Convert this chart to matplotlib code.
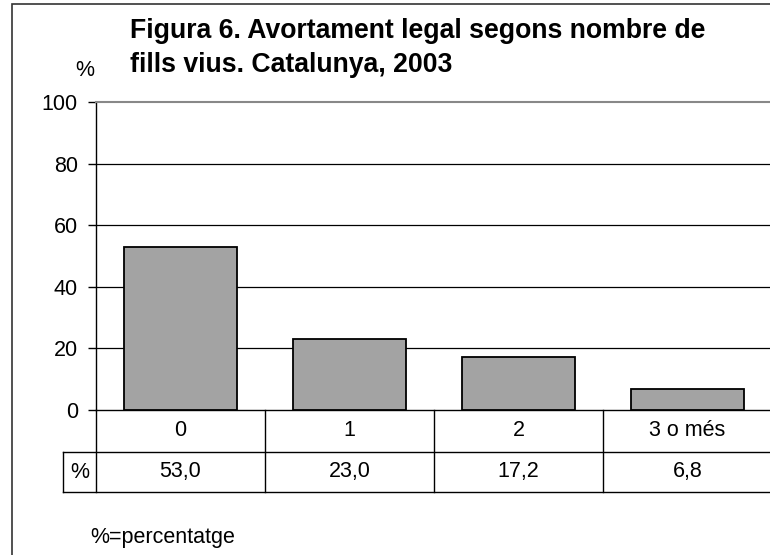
import matplotlib
matplotlib.use("Agg")
import matplotlib.pyplot as plt
import matplotlib.transforms as mtrans
from matplotlib.patches import Rectangle

# ---- data ----
categories = ["0", "1", "2", "3 o més"]
values = [53.0, 23.0, 17.2, 6.8]
value_labels = ["53,0", "23,0", "17,2", "6,8"]
row_header = "%"
yticks = [0, 20, 40, 60, 80, 100]
title_lines = ["Figura 6. Avortament legal segons nombre de",
               "fills vius. Catalunya, 2003"]
y_unit = "%"
footnote = "%=percentatge"

plt.rcParams['font.family'] = ['Liberation Sans', 'DejaVu Sans']

W, H = 770, 555
fig = plt.figure(figsize=(W / 100, H / 100), dpi=100)
fig.patch.set_facecolor('white')

FS = 15.5
TFS = 19.2


def fx(px):
    return px / W


def fy(py):
    return 1 - py / H


# outer chart border (extends beyond the right/bottom edges)
fig.patches.append(Rectangle((fx(11.5), fy(600)), fx(800) - fx(11.5), fy(4) - fy(600),
                             transform=fig.transFigure, fill=False,
                             edgecolor='#333333', linewidth=1.2))

ax_left, ax_right, ax_top, ax_bottom = 96, 772, 102, 410
ax = fig.add_axes([fx(ax_left), fy(ax_bottom), fx(ax_right) - fx(ax_left),
                   fy(ax_top) - fy(ax_bottom)])

x = list(range(len(categories)))
ax.bar(x, values, width=0.67, color='#a3a3a3', edgecolor='black', linewidth=1.3, zorder=3)

ax.set_xlim(-0.5, len(categories) - 0.5)
ax.set_ylim(0, 100)
ax.set_yticks(yticks)
ax.set_yticklabels([str(v) for v in yticks])
ax.set_xticks([])
for v in yticks[1:-1]:
    ax.axhline(v, color='black', linewidth=0.9, zorder=1)

ax.spines['right'].set_visible(False)
ax.spines['top'].set_color('#888888')
ax.spines['top'].set_linewidth(1.5)
ax.spines['left'].set_color('black')
ax.spines['left'].set_linewidth(1.0)
ax.spines['bottom'].set_color('black')
ax.spines['bottom'].set_linewidth(1.0)
ax.tick_params(axis='y', direction='out', length=6, width=1.0, pad=7,
               labelsize=FS, colors='black')

# ---- data table ----
plot_h = ax_bottom - ax_top
r1 = 42 / plot_h
r2 = 40 / plot_h
hdr_left = -0.5 - 33 / ((ax_right - ax_left) / len(categories))
trans = mtrans.blended_transform_factory(ax.transData, ax.transAxes)
lkw = dict(color='black', linewidth=1.0, transform=trans, clip_on=False)

ax.plot([-0.5, -0.5], [0, -(r1 + r2)], **lkw)
for i in range(1, len(categories)):
    ax.plot([i - 0.5, i - 0.5], [0, -(r1 + r2)], **lkw)
ax.plot([hdr_left, len(categories) - 0.5], [-r1, -r1], **lkw)
ax.plot([hdr_left, len(categories) - 0.5], [-(r1 + r2), -(r1 + r2)], **lkw)
ax.plot([hdr_left, hdr_left], [-r1, -(r1 + r2)], **lkw)

for i, (c, v) in enumerate(zip(categories, value_labels)):
    ax.text(i, -r1 / 2, c, transform=trans, ha='center', va='center', fontsize=FS)
    ax.text(i, -(r1 + r2 / 2), v, transform=trans, ha='center', va='center', fontsize=FS)
ax.text((hdr_left - 0.5) / 2, -(r1 + r2 / 2), row_header, transform=trans,
        ha='center', va='center', fontsize=FS)

# ---- titles and notes ----
fig.text(fx(130), fy(37.5), title_lines[0], fontsize=TFS, fontweight='bold', ha='left', va='baseline')
fig.text(fx(130), fy(71.5), title_lines[1], fontsize=TFS, fontweight='bold', ha='left', va='baseline')
fig.text(fx(85), fy(71), y_unit, fontsize=FS, ha='center', va='center')
fig.text(fx(90), fy(537), footnote, fontsize=FS, ha='left', va='center')

fig.savefig('out.png', dpi=100, facecolor='white')
